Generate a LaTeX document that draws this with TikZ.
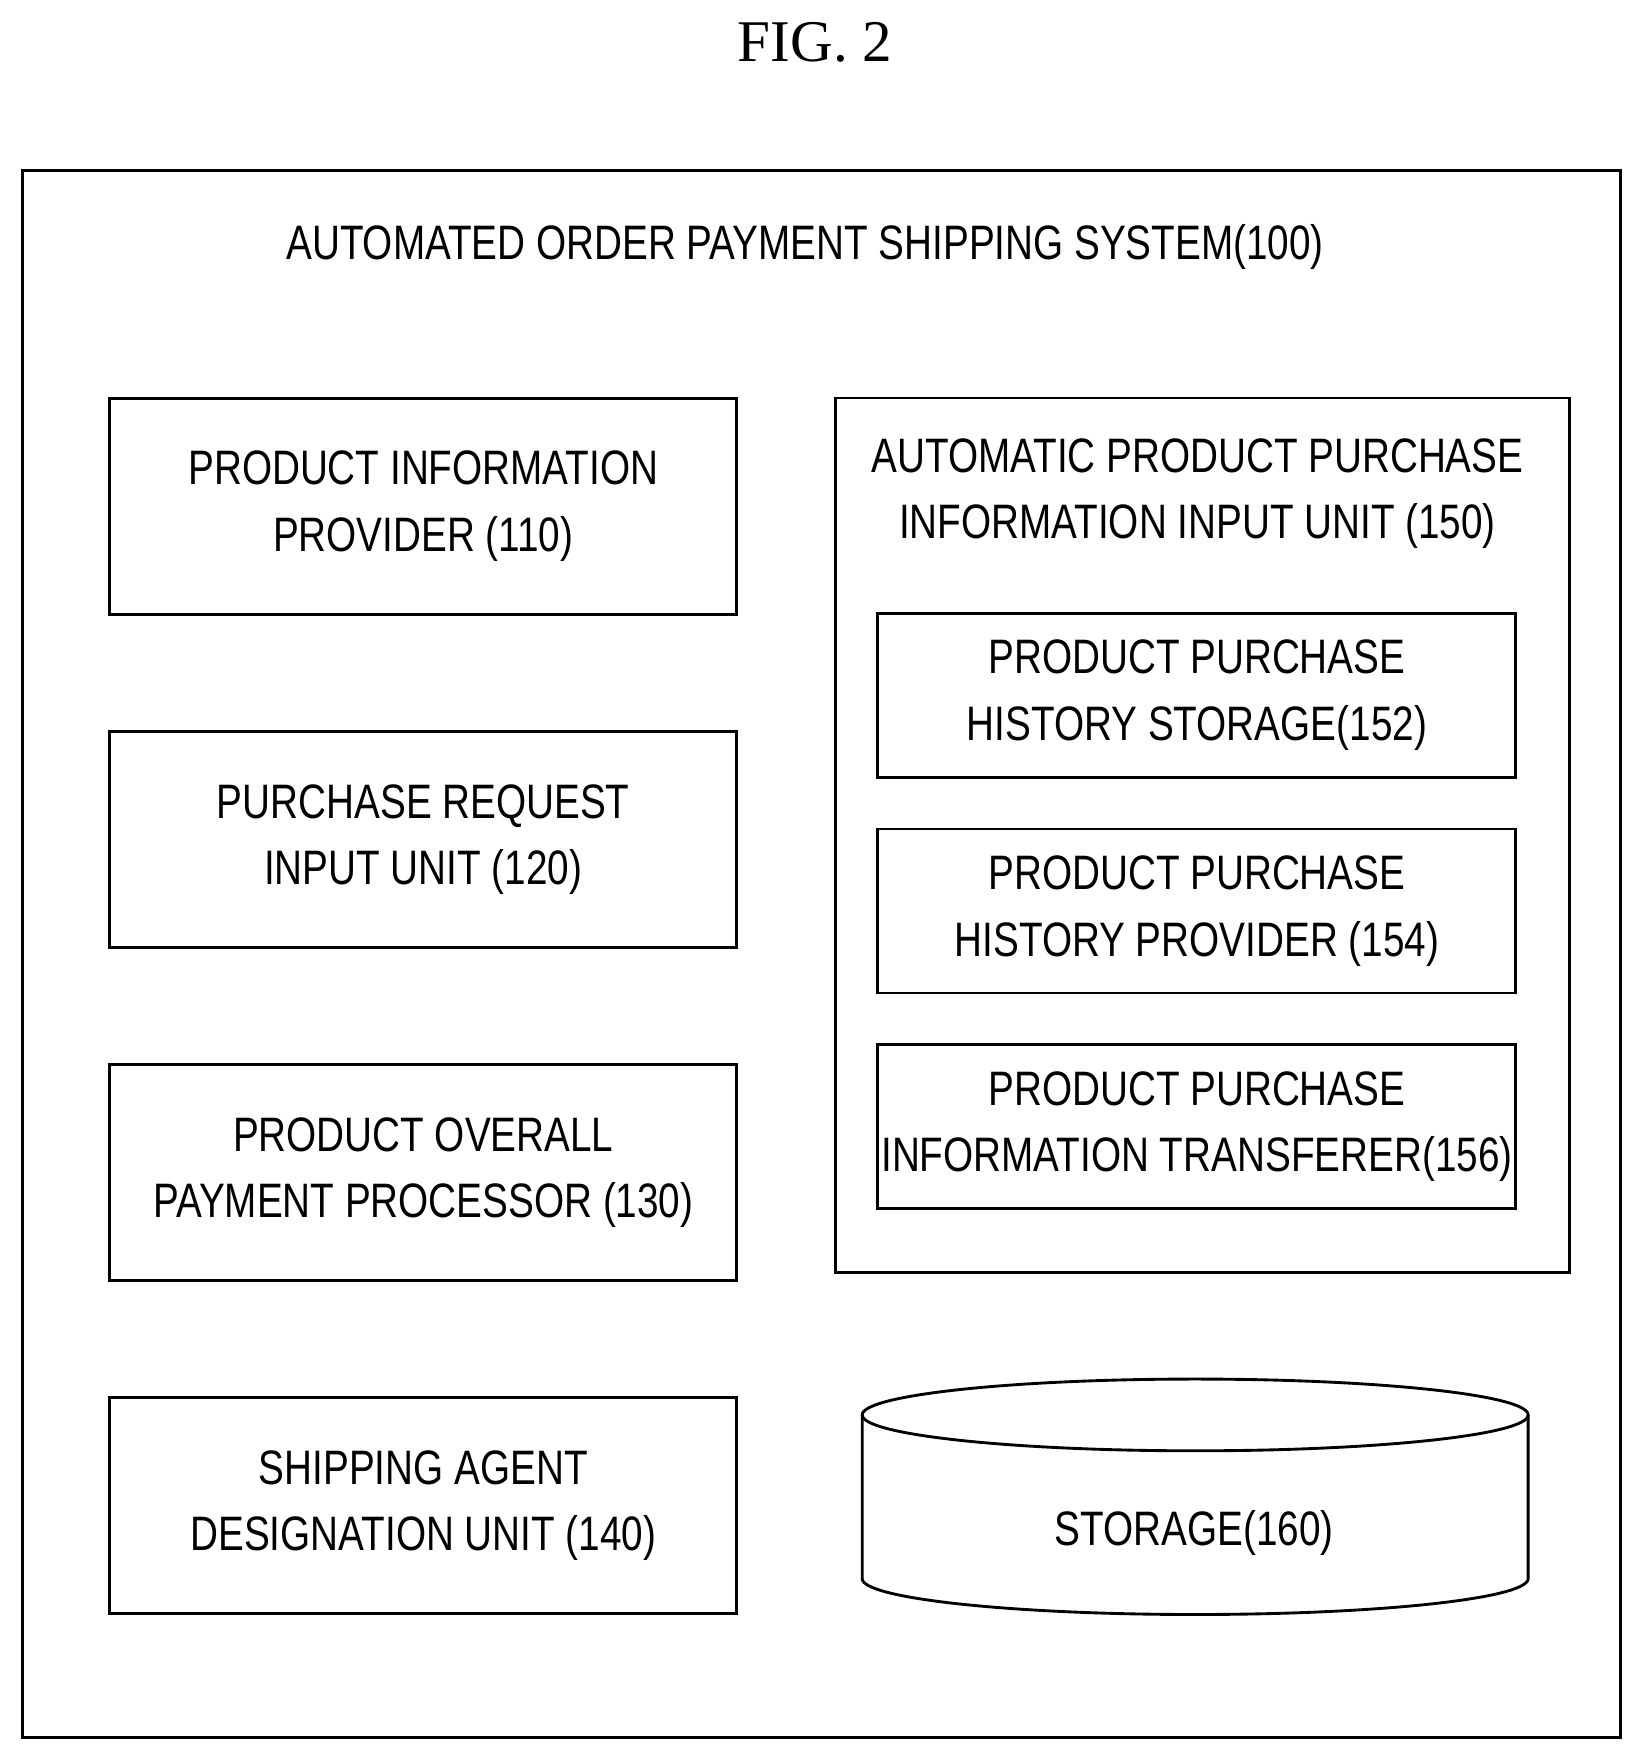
\documentclass[tikz,border=0pt]{standalone}
\usepackage{fontspec}
\setmainfont{Liberation Serif}
\newfontfamily\blockfont{Liberation Sans}[FakeStretch=0.80]
\usetikzlibrary{positioning}
\tikzset{
	every node/.style={align=center},
	block/.style={draw, thick, inner sep=0pt, minimum width=6.15cm,
		minimum height=2.12cm},
	subblock/.style={draw, thick, inner sep=0pt, minimum width=6.26cm,
		minimum height=1.61cm},
	frame/.style={draw, thick},
}
\begin{document}
\begin{tikzpicture}[x=0.011cm, y=-0.011cm,
		every node/.append style={font=\blockfont\fontsize{13.5}{18.5}\selectfont},
		node distance=1.12cm]
	\useasboundingbox (0,0) rectangle (1465,1568);
	\node (fig) at (727,38) {\rmfamily\fontsize{16.5}{18}\selectfont FIG. 2};
	\draw [frame] (20,152) rectangle (1445,1550);
	\node (system) at (718,220) {AUTOMATED ORDER PAYMENT SHIPPING SYSTEM(100)};
	%
	\node (info) [block] at (377.5,451.5) {PRODUCT INFORMATION\\PROVIDER (110)};
	\node (request) [block, below=of info] {PURCHASE REQUEST\\INPUT UNIT (120)};
	\node (payment) [block, below=of request] {PRODUCT OVERALL\\PAYMENT PROCESSOR (130)};
	\node (shipping) [block, below=of payment] {SHIPPING AGENT\\DESIGNATION UNIT (140)};
	%
	\draw [frame] (745,355) rectangle (1400,1135);
	\node (auto) at (1068,440) {AUTOMATIC PRODUCT PURCHASE\\INFORMATION INPUT UNIT (150)};
	\node (hist-storage) [subblock] at (1067.5,620) {PRODUCT PURCHASE\\HISTORY STORAGE(152)};
	\node (hist-provider) [subblock, below=0.48cm of hist-storage]
		{PRODUCT PURCHASE\\HISTORY PROVIDER (154)};
	\node (transferer) [subblock, below=0.48cm of hist-provider]
		{PRODUCT PURCHASE\\INFORMATION TRANSFERER(156)};
	%
	\draw [thick] (1066,1262) ellipse [x radius=297, y radius=32];
	\draw [thick] (769,1262) -- (769,1408) arc [start angle=180, end angle=0,
		x radius=297, y radius=32] -- (1363,1262);
	\node (storage) at (1065,1367) {STORAGE(160)};
\end{tikzpicture}
\end{document}
